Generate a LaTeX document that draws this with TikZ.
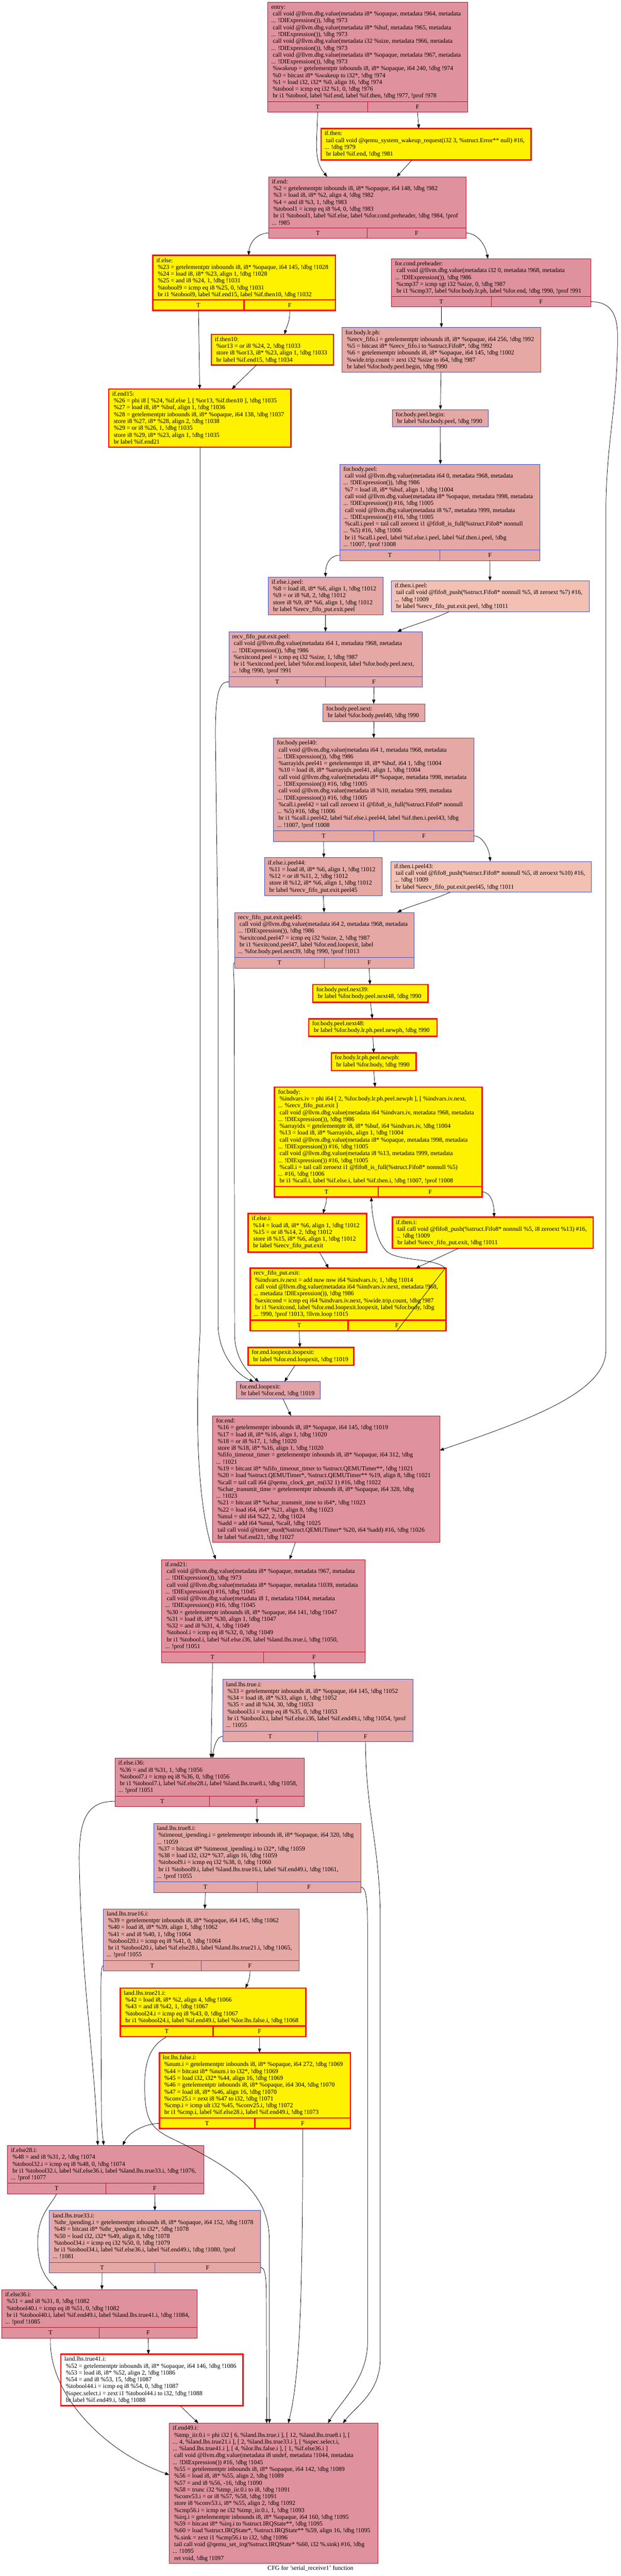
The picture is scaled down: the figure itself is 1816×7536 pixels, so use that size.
\documentclass[tikz,border=0pt]{standalone}
\usepackage{fontspec}
\setmainfont{Liberation Serif}
\usepackage{tikz}
\usetikzlibrary{arrows.meta}
\definecolor{hotb}{HTML}{B70D28}
\definecolor{hotf}{HTML}{DF929D}
\definecolor{warmf}{HTML}{E5A8A5}
\definecolor{lxf}{HTML}{E3A2A5}
\definecolor{coolf}{HTML}{F3C1B4}
\definecolor{coolb}{HTML}{3D50C3}

\begin{document}
\begin{tikzpicture}[x=1pt,y=-1pt,
	blk/.style={anchor=north west,inner sep=0pt,outer sep=0pt},
	cell/.style={anchor=north west,inner sep=0pt,outer sep=0pt,minimum height=31,font=\fontsize{18.1}{20}\selectfont},
	code/.style={anchor=north west,inner sep=0pt,align=left,font=\fontsize{18.1}{20}\selectfont},
	hot/.style={draw=hotb,fill=hotf,line width=1pt},
	warm/.style={draw=coolb,fill=warmf,line width=1pt},
	lx/.style={draw=coolb,fill=lxf,line width=1pt},
	cool/.style={draw=coolb,fill=coolf,line width=1pt},
	hl/.style={draw=red,fill=yellow,line width=4pt},
	hlw/.style={draw=red,fill=white,line width=4pt},
	conn/.style={draw=black,line width=1.1pt,-{Triangle[length=12pt,width=9pt]}}]
	\path[use as bounding box,fill=white] (0,0) rectangle (1816,7536);

	% entry
	\node[blk,hot,minimum width=584,minimum height=291] (entry) at (783,6) {};
	\node[cell,hot,minimum width=292] (entry-T) at (783,297) {T};
	\node[cell,hot,minimum width=292] (entry-F) at (1075,297) {F};
	\node[code] (entry-c) at ([xshift=10pt,yshift=-6pt]entry.north west) {\strut entry:\\
		\ call void @llvm.dbg.value(metadata i8* \%opaque, metadata !964, metadata\\
		... !DIExpression()), !dbg !973\\
		\ call void @llvm.dbg.value(metadata i8* \%buf, metadata !965, metadata\\
		... !DIExpression()), !dbg !973\\
		\ call void @llvm.dbg.value(metadata i32 \%size, metadata !966, metadata\\
		... !DIExpression()), !dbg !973\\
		\ call void @llvm.dbg.value(metadata i8* \%opaque, metadata !967, metadata\\
		... !DIExpression()), !dbg !973\\
		\ \%wakeup = getelementptr inbounds i8, i8* \%opaque, i64 240, !dbg !974\\
		\ \%0 = bitcast i8* \%wakeup to i32*, !dbg !974\\
		\ \%1 = load i32, i32* \%0, align 16, !dbg !974\\
		\ \%tobool = icmp eq i32 \%1, 0, !dbg !976\\
		\ br i1 \%tobool, label \%if.end, label \%if.then, !dbg !977, !prof !978};

	\node[blk,hl,minimum width=614,minimum height=92] (if-then) at (939,376) {};
	\node[code] (if-then-c) at ([xshift=10pt,yshift=-6pt]if-then.north west) {\strut if.then:\\
		\ tail call void @qemu\_system\_wakeup\_request(i32 3, \%struct.Error** null) \#16,\\
		... !dbg !979\\
		\ br label \%if.end, !dbg !981};

	\node[blk,hot,minimum width=578,minimum height=149] (if-end) at (785,517) {};
	\node[cell,hot,minimum width=289] (if-end-T) at (785,666) {T};
	\node[cell,hot,minimum width=289] (if-end-F) at (1074,666) {F};
	\node[code] (if-end-c) at ([xshift=10pt,yshift=-6pt]if-end.north west) {\strut if.end:\\
		\ \%2 = getelementptr inbounds i8, i8* \%opaque, i64 148, !dbg !982\\
		\ \%3 = load i8, i8* \%2, align 4, !dbg !982\\
		\ \%4 = and i8 \%3, 1, !dbg !983\\
		\ \%tobool1 = icmp eq i8 \%4, 0, !dbg !983\\
		\ br i1 \%tobool1, label \%if.else, label \%for.cond.preheader, !dbg !984, !prof\\
		... !985};

	\node[blk,hl,minimum width=534,minimum height=130] (if-else) at (447,747) {};
	\node[cell,hl,minimum width=267] (if-else-T) at (447,877) {T};
	\node[cell,hl,minimum width=267] (if-else-F) at (714,877) {F};
	\node[code] (if-else-c) at ([xshift=10pt,yshift=-6pt]if-else.north west) {\strut if.else:\\
		\ \%23 = getelementptr inbounds i8, i8* \%opaque, i64 145, !dbg !1028\\
		\ \%24 = load i8, i8* \%23, align 1, !dbg !1028\\
		\ \%25 = and i8 \%24, 1, !dbg !1031\\
		\ \%tobool9 = icmp eq i8 \%25, 0, !dbg !1031\\
		\ br i1 \%tobool9, label \%if.end15, label \%if.then10, !dbg !1032};

	\node[blk,hot,minimum width=583,minimum height=110] (for-cond-preheader) at (1145,757) {};
	\node[cell,hot,minimum width=291.5] (for-cond-preheader-T) at (1145,867) {T};
	\node[cell,hot,minimum width=291.5] (for-cond-preheader-F) at (1436.5,867) {F};
	\node[code] (for-cond-preheader-c) at ([xshift=10pt,yshift=-6pt]for-cond-preheader.north west) {\strut for.cond.preheader:\\
		\ call void @llvm.dbg.value(metadata i32 0, metadata !968, metadata\\
		... !DIExpression()), !dbg !986\\
		\ \%cmp37 = icmp sgt i32 \%size, 0, !dbg !987\\
		\ br i1 \%cmp37, label \%for.body.lr.ph, label \%for.end, !dbg !990, !prof !991};

	\node[blk,hl,minimum width=357,minimum height=90] (if-then10) at (618,978) {};
	\node[code] (if-then10-c) at ([xshift=10pt,yshift=-6pt]if-then10.north west) {\strut if.then10:\\
		\ \%or13 = or i8 \%24, 2, !dbg !1033\\
		\ store i8 \%or13, i8* \%23, align 1, !dbg !1033\\
		\ br label \%if.end15, !dbg !1034};

	\node[blk,hl,minimum width=533,minimum height=170] (if-end15) at (318,1138) {};
	\node[code] (if-end15-c) at ([xshift=10pt,yshift=-6pt]if-end15.north west) {\strut if.end15:\\
		\ \%26 = phi i8 [ \%24, \%if.else ], [ \%or13, \%if.then10 ], !dbg !1035\\
		\ \%27 = load i8, i8* \%buf, align 1, !dbg !1036\\
		\ \%28 = getelementptr inbounds i8, i8* \%opaque, i64 138, !dbg !1037\\
		\ store i8 \%27, i8* \%28, align 2, !dbg !1038\\
		\ \%29 = or i8 \%26, 1, !dbg !1035\\
		\ store i8 \%29, i8* \%23, align 1, !dbg !1035\\
		\ br label \%if.end21};

	\node[blk,warm,minimum width=582,minimum height=130] (for-body-lr-ph) at (1000,958) {};
	\node[code] (for-body-lr-ph-c) at ([xshift=10pt,yshift=-6pt]for-body-lr-ph.north west) {\strut for.body.lr.ph:\\
		\ \%recv\_fifo.i = getelementptr inbounds i8, i8* \%opaque, i64 256, !dbg !992\\
		\ \%5 = bitcast i8* \%recv\_fifo.i to \%struct.Fifo8*, !dbg !992\\
		\ \%6 = getelementptr inbounds i8, i8* \%opaque, i64 145, !dbg !1002\\
		\ \%wide.trip.count = zext i32 \%size to i64, !dbg !987\\
		\ br label \%for.body.peel.begin, !dbg !990};

	\node[blk,warm,minimum width=281,minimum height=50] (for-body-peel-begin) at (1147,1198) {};
	\node[code] (for-body-peel-begin-c) at ([xshift=10pt,yshift=-6pt]for-body-peel-begin.north west) {\strut for.body.peel.begin:\\
		\ br label \%for.body.peel, !dbg !990};

	\node[blk,warm,minimum width=585,minimum height=251] (for-body-peel) at (994,1358) {};
	\node[cell,warm,minimum width=292.5] (for-body-peel-T) at (994,1609) {T};
	\node[cell,warm,minimum width=292.5] (for-body-peel-F) at (1286.5,1609) {F};
	\node[code] (for-body-peel-c) at ([xshift=10pt,yshift=-6pt]for-body-peel.north west) {\strut for.body.peel:\\
		\ call void @llvm.dbg.value(metadata i64 0, metadata !968, metadata\\
		... !DIExpression()), !dbg !986\\
		\ \%7 = load i8, i8* \%buf, align 1, !dbg !1004\\
		\ call void @llvm.dbg.value(metadata i8* \%opaque, metadata !998, metadata\\
		... !DIExpression()) \#16, !dbg !1005\\
		\ call void @llvm.dbg.value(metadata i8 \%7, metadata !999, metadata\\
		... !DIExpression()) \#16, !dbg !1005\\
		\ \%call.i.peel = tail call zeroext i1 @fifo8\_is\_full(\%struct.Fifo8* nonnull\\
		... \%5) \#16, !dbg !1006\\
		\ br i1 \%call.i.peel, label \%if.else.i.peel, label \%if.then.i.peel, !dbg\\
		... !1007, !prof !1008};

	\node[blk,warm,minimum width=336,minimum height=111] (if-else-i-peel) at (784,1688) {};
	\node[code] (if-else-i-peel-c) at ([xshift=10pt,yshift=-6pt]if-else-i-peel.north west) {\strut if.else.i.peel:\\
		\ \%8 = load i8, i8* \%6, align 1, !dbg !1012\\
		\ \%9 = or i8 \%8, 2, !dbg !1012\\
		\ store i8 \%9, i8* \%6, align 1, !dbg !1012\\
		\ br label \%recv\_fifo\_put.exit.peel};

	\node[blk,cool,minimum width=579,minimum height=90] (if-then-i-peel) at (1144,1699) {};
	\node[code] (if-then-i-peel-c) at ([xshift=10pt,yshift=-6pt]if-then-i-peel.north west) {\strut if.then.i.peel:\\
		\ tail call void @fifo8\_push(\%struct.Fifo8* nonnull \%5, i8 zeroext \%7) \#16,\\
		... !dbg !1009\\
		\ br label \%recv\_fifo\_put.exit.peel, !dbg !1011};

	\node[blk,warm,minimum width=566,minimum height=131] (recv-exit-peel) at (669,1848) {};
	\node[cell,warm,minimum width=283] (recv-exit-peel-T) at (669,1979) {T};
	\node[cell,warm,minimum width=283] (recv-exit-peel-F) at (952,1979) {F};
	\node[code] (recv-exit-peel-c) at ([xshift=10pt,yshift=-6pt]recv-exit-peel.north west) {\strut recv\_fifo\_put.exit.peel:\\
		\ call void @llvm.dbg.value(metadata i64 1, metadata !968, metadata\\
		... !DIExpression()), !dbg !986\\
		\ \%exitcond.peel = icmp eq i32 \%size, 1, !dbg !987\\
		\ br i1 \%exitcond.peel, label \%for.end.loopexit, label \%for.body.peel.next,\\
		... !dbg !990, !prof !991};

	\node[blk,warm,minimum width=299,minimum height=51] (for-body-peel-next) at (944,2059) {};
	\node[code] (for-body-peel-next-c) at ([xshift=10pt,yshift=-6pt]for-body-peel-next.north west) {\strut for.body.peel.next:\\
		\ br label \%for.body.peel40, !dbg !990};

	\node[blk,warm,minimum width=586,minimum height=271] (for-body-peel40) at (800,2159) {};
	\node[cell,warm,minimum width=293] (for-body-peel40-T) at (800,2430) {T};
	\node[cell,warm,minimum width=293] (for-body-peel40-F) at (1093,2430) {F};
	\node[code] (for-body-peel40-c) at ([xshift=10pt,yshift=-6pt]for-body-peel40.north west) {\strut for.body.peel40:\\
		\ call void @llvm.dbg.value(metadata i64 1, metadata !968, metadata\\
		... !DIExpression()), !dbg !986\\
		\ \%arrayidx.peel41 = getelementptr i8, i8* \%buf, i64 1, !dbg !1004\\
		\ \%10 = load i8, i8* \%arrayidx.peel41, align 1, !dbg !1004\\
		\ call void @llvm.dbg.value(metadata i8* \%opaque, metadata !998, metadata\\
		... !DIExpression()) \#16, !dbg !1005\\
		\ call void @llvm.dbg.value(metadata i8 \%10, metadata !999, metadata\\
		... !DIExpression()) \#16, !dbg !1005\\
		\ \%call.i.peel42 = tail call zeroext i1 @fifo8\_is\_full(\%struct.Fifo8* nonnull\\
		... \%5) \#16, !dbg !1006\\
		\ br i1 \%call.i.peel42, label \%if.else.i.peel44, label \%if.then.i.peel43, !dbg\\
		... !1007, !prof !1008};

	\node[blk,warm,minimum width=345,minimum height=111] (if-else-i-peel44) at (773,2509) {};
	\node[code] (if-else-i-peel44-c) at ([xshift=10pt,yshift=-6pt]if-else-i-peel44.north west) {\strut if.else.i.peel44:\\
		\ \%11 = load i8, i8* \%6, align 1, !dbg !1012\\
		\ \%12 = or i8 \%11, 2, !dbg !1012\\
		\ store i8 \%12, i8* \%6, align 1, !dbg !1012\\
		\ br label \%recv\_fifo\_put.exit.peel45};

	\node[blk,cool,minimum width=586,minimum height=90] (if-then-i-peel43) at (1143,2520) {};
	\node[code] (if-then-i-peel43-c) at ([xshift=10pt,yshift=-6pt]if-then-i-peel43.north west) {\strut if.then.i.peel43:\\
		\ tail call void @fifo8\_push(\%struct.Fifo8* nonnull \%5, i8 zeroext \%10) \#16,\\
		... !dbg !1009\\
		\ br label \%recv\_fifo\_put.exit.peel45, !dbg !1011};

	\node[blk,warm,minimum width=525,minimum height=132] (recv-exit-peel45) at (686,2669) {};
	\node[cell,warm,minimum width=262.5] (recv-exit-peel45-T) at (686,2801) {T};
	\node[cell,warm,minimum width=262.5] (recv-exit-peel45-F) at (948.5,2801) {F};
	\node[code] (recv-exit-peel45-c) at ([xshift=10pt,yshift=-6pt]recv-exit-peel45.north west) {\strut recv\_fifo\_put.exit.peel45:\\
		\ call void @llvm.dbg.value(metadata i64 2, metadata !968, metadata\\
		... !DIExpression()), !dbg !986\\
		\ \%exitcond.peel47 = icmp eq i32 \%size, 2, !dbg !987\\
		\ br i1 \%exitcond.peel47, label \%for.end.loopexit, label\\
		... \%for.body.peel.next39, !dbg !990, !prof !1013};

	\node[blk,hl,minimum width=337,minimum height=52] (for-body-peel-next39) at (915,2880) {};
	\node[code] (for-body-peel-next39-c) at ([xshift=10pt,yshift=-6pt]for-body-peel-next39.north west) {\strut for.body.peel.next39:\\
		\ br label \%for.body.peel.next48, !dbg !990};

	\node[blk,hl,minimum width=375,minimum height=52] (for-body-peel-next48) at (903,2980) {};
	\node[code] (for-body-peel-next48-c) at ([xshift=10pt,yshift=-6pt]for-body-peel-next48.north west) {\strut for.body.peel.next48:\\
		\ br label \%for.body.lr.ph.peel.newph, !dbg !990};

	\node[blk,hl,minimum width=248,minimum height=52] (for-body-lr-ph-peel-newph) at (969,3080) {};
	\node[code] (for-body-lr-ph-peel-newph-c) at ([xshift=10pt,yshift=-6pt]for-body-lr-ph-peel-newph.north west) {\strut for.body.lr.ph.peel.newph:\\
		\ br label \%for.body, !dbg !990};

	\node[blk,hl,minimum width=607,minimum height=291] (for-body) at (803,3180) {};
	\node[cell,hl,minimum width=303.5] (for-body-T) at (803,3471) {T};
	\node[cell,hl,minimum width=303.5] (for-body-F) at (1106.5,3471) {F};
	\node[code] (for-body-c) at ([xshift=10pt,yshift=-6pt]for-body.north west) {\strut for.body:\\
		\ \%indvars.iv = phi i64 [ 2, \%for.body.lr.ph.peel.newph ], [ \%indvars.iv.next,\\
		... \%recv\_fifo\_put.exit ]\\
		\ call void @llvm.dbg.value(metadata i64 \%indvars.iv, metadata !968, metadata\\
		... !DIExpression()), !dbg !986\\
		\ \%arrayidx = getelementptr i8, i8* \%buf, i64 \%indvars.iv, !dbg !1004\\
		\ \%13 = load i8, i8* \%arrayidx, align 1, !dbg !1004\\
		\ call void @llvm.dbg.value(metadata i8* \%opaque, metadata !998, metadata\\
		... !DIExpression()) \#16, !dbg !1005\\
		\ call void @llvm.dbg.value(metadata i8 \%13, metadata !999, metadata\\
		... !DIExpression()) \#16, !dbg !1005\\
		\ \%call.i = tail call zeroext i1 @fifo8\_is\_full(\%struct.Fifo8* nonnull \%5)\\
		... \#16, !dbg !1006\\
		\ br i1 \%call.i, label \%if.else.i, label \%if.then.i, !dbg !1007, !prof !1008};

	\node[blk,hl,minimum width=346,minimum height=113] (if-else-i) at (726,3550) {};
	\node[code] (if-else-i-c) at ([xshift=10pt,yshift=-6pt]if-else-i.north west) {\strut if.else.i:\\
		\ \%14 = load i8, i8* \%6, align 1, !dbg !1012\\
		\ \%15 = or i8 \%14, 2, !dbg !1012\\
		\ store i8 \%15, i8* \%6, align 1, !dbg !1012\\
		\ br label \%recv\_fifo\_put.exit};

	\node[blk,hl,minimum width=587,minimum height=91] (if-then-i) at (1148,3561) {};
	\node[code] (if-then-i-c) at ([xshift=10pt,yshift=-6pt]if-then-i.north west) {\strut if.then.i:\\
		\ tail call void @fifo8\_push(\%struct.Fifo8* nonnull \%5, i8 zeroext \%13) \#16,\\
		... !dbg !1009\\
		\ br label \%recv\_fifo\_put.exit, !dbg !1011};

	\node[blk,hl,minimum width=572,minimum height=152] (recv-exit) at (732,3710) {};
	\node[cell,hl,minimum width=286] (recv-exit-T) at (732,3862) {T};
	\node[cell,hl,minimum width=286] (recv-exit-F) at (1018,3862) {F};
	\node[code] (recv-exit-c) at ([xshift=10pt,yshift=-6pt]recv-exit.north west) {\strut recv\_fifo\_put.exit:\\
		\ \%indvars.iv.next = add nuw nsw i64 \%indvars.iv, 1, !dbg !1014\\
		\ call void @llvm.dbg.value(metadata i64 \%indvars.iv.next, metadata !968,\\
		... metadata !DIExpression()), !dbg !986\\
		\ \%exitcond = icmp eq i64 \%indvars.iv.next, \%wide.trip.count, !dbg !987\\
		\ br i1 \%exitcond, label \%for.end.loopexit.loopexit, label \%for.body, !dbg\\
		... !990, !prof !1013, !llvm.loop !1015};

	\node[blk,hl,minimum width=309,minimum height=52] (for-end-loopexit-loopexit) at (726,3942) {};
	\node[code] (for-end-loopexit-loopexit-c) at ([xshift=10pt,yshift=-6pt]for-end-loopexit-loopexit.north west) {\strut for.end.loopexit.loopexit:\\
		\ br label \%for.end.loopexit, !dbg !1019};

	\node[blk,lx,minimum width=245,minimum height=51] (for-end-loopexit) at (691,4042) {};
	\node[code] (for-end-loopexit-c) at ([xshift=10pt,yshift=-6pt]for-end-loopexit.north west) {\strut for.end.loopexit:\\
		\ br label \%for.end, !dbg !1019};

	\node[blk,hot,minimum width=664,minimum height=370] (for-end) at (622,4142) {};
	\node[code] (for-end-c) at ([xshift=10pt,yshift=-6pt]for-end.north west) {\strut for.end:\\
		\ \%16 = getelementptr inbounds i8, i8* \%opaque, i64 145, !dbg !1019\\
		\ \%17 = load i8, i8* \%16, align 1, !dbg !1020\\
		\ \%18 = or i8 \%17, 1, !dbg !1020\\
		\ store i8 \%18, i8* \%16, align 1, !dbg !1020\\
		\ \%fifo\_timeout\_timer = getelementptr inbounds i8, i8* \%opaque, i64 312, !dbg\\
		... !1021\\
		\ \%19 = bitcast i8* \%fifo\_timeout\_timer to \%struct.QEMUTimer**, !dbg !1021\\
		\ \%20 = load \%struct.QEMUTimer*, \%struct.QEMUTimer** \%19, align 8, !dbg !1021\\
		\ \%call = tail call i64 @qemu\_clock\_get\_ns(i32 1) \#16, !dbg !1022\\
		\ \%char\_transmit\_time = getelementptr inbounds i8, i8* \%opaque, i64 328, !dbg\\
		... !1023\\
		\ \%21 = bitcast i8* \%char\_transmit\_time to i64*, !dbg !1023\\
		\ \%22 = load i64, i64* \%21, align 8, !dbg !1023\\
		\ \%mul = shl i64 \%22, 2, !dbg !1024\\
		\ \%add = add i64 \%mul, \%call, !dbg !1025\\
		\ tail call void @timer\_mod(\%struct.QEMUTimer* \%20, i64 \%add) \#16, !dbg !1026\\
		\ br label \%if.end21, !dbg !1027};

	\node[blk,hot,minimum width=594,minimum height=271] (if-end21) at (473,4562) {};
	\node[cell,hot,minimum width=297] (if-end21-T) at (473,4833) {T};
	\node[cell,hot,minimum width=297] (if-end21-F) at (770,4833) {F};
	\node[code] (if-end21-c) at ([xshift=10pt,yshift=-6pt]if-end21.north west) {\strut if.end21:\\
		\ call void @llvm.dbg.value(metadata i8* \%opaque, metadata !967, metadata\\
		... !DIExpression()), !dbg !973\\
		\ call void @llvm.dbg.value(metadata i8* \%opaque, metadata !1039, metadata\\
		... !DIExpression()) \#16, !dbg !1045\\
		\ call void @llvm.dbg.value(metadata i8 1, metadata !1044, metadata\\
		... !DIExpression()) \#16, !dbg !1045\\
		\ \%30 = getelementptr inbounds i8, i8* \%opaque, i64 141, !dbg !1047\\
		\ \%31 = load i8, i8* \%30, align 1, !dbg !1047\\
		\ \%32 = and i8 \%31, 4, !dbg !1049\\
		\ \%tobool.i = icmp eq i8 \%32, 0, !dbg !1049\\
		\ br i1 \%tobool.i, label \%if.else.i36, label \%land.lhs.true.i, !dbg !1050,\\
		... !prof !1051};

	\node[blk,warm,minimum width=557,minimum height=151] (land-lhs-true-i) at (651,4913) {};
	\node[cell,warm,minimum width=278.5] (land-lhs-true-i-T) at (651,5064) {T};
	\node[cell,warm,minimum width=278.5] (land-lhs-true-i-F) at (929.5,5064) {F};
	\node[code] (land-lhs-true-i-c) at ([xshift=10pt,yshift=-6pt]land-lhs-true-i.north west) {\strut land.lhs.true.i:\\
		\ \%33 = getelementptr inbounds i8, i8* \%opaque, i64 145, !dbg !1052\\
		\ \%34 = load i8, i8* \%33, align 1, !dbg !1052\\
		\ \%35 = and i8 \%34, 30, !dbg !1053\\
		\ \%tobool3.i = icmp eq i8 \%35, 0, !dbg !1053\\
		\ br i1 \%tobool3.i, label \%if.else.i36, label \%if.end49.i, !dbg !1054, !prof\\
		... !1055};

	\node[blk,hot,minimum width=554,minimum height=111] (if-else-i36) at (336,5143) {};
	\node[cell,hot,minimum width=277] (if-else-i36-T) at (336,5254) {T};
	\node[cell,hot,minimum width=277] (if-else-i36-F) at (613,5254) {F};
	\node[code] (if-else-i36-c) at ([xshift=10pt,yshift=-6pt]if-else-i36.north west) {\strut if.else.i36:\\
		\ \%36 = and i8 \%31, 1, !dbg !1056\\
		\ \%tobool7.i = icmp eq i8 \%36, 0, !dbg !1056\\
		\ br i1 \%tobool7.i, label \%if.else28.i, label \%land.lhs.true8.i, !dbg !1058,\\
		... !prof !1051};

	\node[blk,warm,minimum width=606,minimum height=171] (land-lhs-true8-i) at (449,5334) {};
	\node[cell,warm,minimum width=303] (land-lhs-true8-i-T) at (449,5505) {T};
	\node[cell,warm,minimum width=303] (land-lhs-true8-i-F) at (752,5505) {F};
	\node[code] (land-lhs-true8-i-c) at ([xshift=10pt,yshift=-6pt]land-lhs-true8-i.north west) {\strut land.lhs.true8.i:\\
		\ \%timeout\_ipending.i = getelementptr inbounds i8, i8* \%opaque, i64 320, !dbg\\
		... !1059\\
		\ \%37 = bitcast i8* \%timeout\_ipending.i to i32*, !dbg !1059\\
		\ \%38 = load i32, i32* \%37, align 16, !dbg !1059\\
		\ \%tobool9.i = icmp eq i32 \%38, 0, !dbg !1060\\
		\ br i1 \%tobool9.i, label \%land.lhs.true16.i, label \%if.end49.i, !dbg !1061,\\
		... !prof !1055};

	\node[blk,warm,minimum width=572,minimum height=151] (land-lhs-true16-i) at (302,5584) {};
	\node[cell,warm,minimum width=286] (land-lhs-true16-i-T) at (302,5735) {T};
	\node[cell,warm,minimum width=286] (land-lhs-true16-i-F) at (588,5735) {F};
	\node[code] (land-lhs-true16-i-c) at ([xshift=10pt,yshift=-6pt]land-lhs-true16-i.north west) {\strut land.lhs.true16.i:\\
		\ \%39 = getelementptr inbounds i8, i8* \%opaque, i64 145, !dbg !1062\\
		\ \%40 = load i8, i8* \%39, align 1, !dbg !1062\\
		\ \%41 = and i8 \%40, 1, !dbg !1064\\
		\ \%tobool20.i = icmp eq i8 \%41, 0, !dbg !1064\\
		\ br i1 \%tobool20.i, label \%if.else28.i, label \%land.lhs.true21.i, !dbg !1065,\\
		... !prof !1055};

	\node[blk,hl,minimum width=543,minimum height=111] (land-lhs-true21-i) at (352,5816) {};
	\node[cell,hl,minimum width=271.5] (land-lhs-true21-i-T) at (352,5927) {T};
	\node[cell,hl,minimum width=271.5] (land-lhs-true21-i-F) at (623.5,5927) {F};
	\node[code] (land-lhs-true21-i-c) at ([xshift=10pt,yshift=-6pt]land-lhs-true21-i.north west) {\strut land.lhs.true21.i:\\
		\ \%42 = load i8, i8* \%2, align 4, !dbg !1066\\
		\ \%43 = and i8 \%42, 1, !dbg !1067\\
		\ \%tobool24.i = icmp eq i8 \%43, 0, !dbg !1067\\
		\ br i1 \%tobool24.i, label \%if.end49.i, label \%lor.lhs.false.i, !dbg !1068};

	\node[blk,hl,minimum width=559,minimum height=191] (lor-lhs-false-i) at (466,6005) {};
	\node[cell,hl,minimum width=279.5] (lor-lhs-false-i-T) at (466,6196) {T};
	\node[cell,hl,minimum width=279.5] (lor-lhs-false-i-F) at (745.5,6196) {F};
	\node[code] (lor-lhs-false-i-c) at ([xshift=10pt,yshift=-6pt]lor-lhs-false-i.north west) {\strut lor.lhs.false.i:\\
		\ \%num.i = getelementptr inbounds i8, i8* \%opaque, i64 272, !dbg !1069\\
		\ \%44 = bitcast i8* \%num.i to i32*, !dbg !1069\\
		\ \%45 = load i32, i32* \%44, align 16, !dbg !1069\\
		\ \%46 = getelementptr inbounds i8, i8* \%opaque, i64 304, !dbg !1070\\
		\ \%47 = load i8, i8* \%46, align 16, !dbg !1070\\
		\ \%conv25.i = zext i8 \%47 to i32, !dbg !1071\\
		\ \%cmp.i = icmp ult i32 \%45, \%conv25.i, !dbg !1072\\
		\ br i1 \%cmp.i, label \%if.else28.i, label \%if.end49.i, !dbg !1073};

	\node[blk,hot,minimum width=574,minimum height=111] (if-else28-i) at (22,6276) {};
	\node[cell,hot,minimum width=287] (if-else28-i-T) at (22,6387) {T};
	\node[cell,hot,minimum width=287] (if-else28-i-F) at (309,6387) {F};
	\node[code] (if-else28-i-c) at ([xshift=10pt,yshift=-6pt]if-else28-i.north west) {\strut if.else28.i:\\
		\ \%48 = and i8 \%31, 2, !dbg !1074\\
		\ \%tobool32.i = icmp eq i8 \%48, 0, !dbg !1074\\
		\ br i1 \%tobool32.i, label \%if.else36.i, label \%land.lhs.true33.i, !dbg !1076,\\
		... !prof !1077};

	\node[blk,warm,minimum width=618,minimum height=151] (land-lhs-true33-i) at (144,6467) {};
	\node[cell,warm,minimum width=309] (land-lhs-true33-i-T) at (144,6618) {T};
	\node[cell,warm,minimum width=309] (land-lhs-true33-i-F) at (453,6618) {F};
	\node[code] (land-lhs-true33-i-c) at ([xshift=10pt,yshift=-6pt]land-lhs-true33-i.north west) {\strut land.lhs.true33.i:\\
		\ \%thr\_ipending.i = getelementptr inbounds i8, i8* \%opaque, i64 152, !dbg !1078\\
		\ \%49 = bitcast i8* \%thr\_ipending.i to i32*, !dbg !1078\\
		\ \%50 = load i32, i32* \%49, align 8, !dbg !1078\\
		\ \%tobool34.i = icmp eq i32 \%50, 0, !dbg !1079\\
		\ br i1 \%tobool34.i, label \%if.else36.i, label \%if.end49.i, !dbg !1080, !prof\\
		... !1081};

	\node[blk,hot,minimum width=571,minimum height=111] (if-else36-i) at (5,6698) {};
	\node[cell,hot,minimum width=285.5] (if-else36-i-T) at (5,6809) {T};
	\node[cell,hot,minimum width=285.5] (if-else36-i-F) at (290.5,6809) {F};
	\node[code] (if-else36-i-c) at ([xshift=10pt,yshift=-6pt]if-else36-i.north west) {\strut if.else36.i:\\
		\ \%51 = and i8 \%31, 8, !dbg !1082\\
		\ \%tobool40.i = icmp eq i8 \%51, 0, !dbg !1082\\
		\ br i1 \%tobool40.i, label \%if.end49.i, label \%land.lhs.true41.i, !dbg !1084,\\
		... !prof !1085};

	\node[blk,hlw,minimum width=533,minimum height=151] (land-lhs-true41-i) at (178,6887) {};
	\node[code] (land-lhs-true41-i-c) at ([xshift=10pt,yshift=-6pt]land-lhs-true41-i.north west) {\strut land.lhs.true41.i:\\
		\ \%52 = getelementptr inbounds i8, i8* \%opaque, i64 146, !dbg !1086\\
		\ \%53 = load i8, i8* \%52, align 2, !dbg !1086\\
		\ \%54 = and i8 \%53, 15, !dbg !1087\\
		\ \%tobool44.i = icmp eq i8 \%54, 0, !dbg !1087\\
		\ \%spec.select.i = zext i1 \%tobool44.i to i32, !dbg !1088\\
		\ br label \%if.end49.i, !dbg !1088};

	\node[blk,hot,minimum width=610,minimum height=410] (if-end49-i) at (495,7089) {};
	\node[code] (if-end49-i-c) at ([xshift=10pt,yshift=-6pt]if-end49-i.north west) {\strut if.end49.i:\\
		\ \%tmp\_iir.0.i = phi i32 [ 6, \%land.lhs.true.i ], [ 12, \%land.lhs.true8.i ], [\\
		... 4, \%land.lhs.true21.i ], [ 2, \%land.lhs.true33.i ], [ \%spec.select.i,\\
		... \%land.lhs.true41.i ], [ 4, \%lor.lhs.false.i ], [ 1, \%if.else36.i ]\\
		\ call void @llvm.dbg.value(metadata i8 undef, metadata !1044, metadata\\
		... !DIExpression()) \#16, !dbg !1045\\
		\ \%55 = getelementptr inbounds i8, i8* \%opaque, i64 142, !dbg !1089\\
		\ \%56 = load i8, i8* \%55, align 2, !dbg !1089\\
		\ \%57 = and i8 \%56, -16, !dbg !1090\\
		\ \%58 = trunc i32 \%tmp\_iir.0.i to i8, !dbg !1091\\
		\ \%conv53.i = or i8 \%57, \%58, !dbg !1091\\
		\ store i8 \%conv53.i, i8* \%55, align 2, !dbg !1092\\
		\ \%cmp56.i = icmp ne i32 \%tmp\_iir.0.i, 1, !dbg !1093\\
		\ \%irq.i = getelementptr inbounds i8, i8* \%opaque, i64 160, !dbg !1095\\
		\ \%59 = bitcast i8* \%irq.i to \%struct.IRQState**, !dbg !1095\\
		\ \%60 = load \%struct.IRQState*, \%struct.IRQState** \%59, align 16, !dbg !1095\\
		\ \%.sink = zext i1 \%cmp56.i to i32, !dbg !1096\\
		\ tail call void @qemu\_set\_irq(\%struct.IRQState* \%60, i32 \%.sink) \#16, !dbg\\
		... !1095\\
		\ ret void, !dbg !1097};

	\node[anchor=base,inner sep=0pt,font=\fontsize{18.1}{20}\selectfont] (title) at (908,7519) {CFG for 'serial\_receive1' function};

	% edges
	\draw[conn] (entry-T.south) .. controls (926,430) and (918,470) .. ([xshift=172pt]if-end.north west);
	\draw[conn] (entry-F.south) -- ([xshift=286pt]if-then.north west);
	\draw[conn] ([xshift=266pt]if-then.south west) -- ([xshift=375pt]if-end.north west);
	\draw[conn] (if-end-T.west) .. controls (750,683) and (730,710) .. ([xshift=280pt]if-else.north west);
	\draw[conn] (if-end-F.east) .. controls (1400,683) and (1420,720) .. ([xshift=282pt]for-cond-preheader.north west);
	\draw[conn] (if-else-T.south) -- ([xshift=266pt]if-end15.north west);
	\draw[conn] (if-else-F.south) .. controls (848,940) and (840,950) .. ([xshift=214pt]if-then10.north west);
	\draw[conn] ([xshift=132pt]if-then10.south west) -- ([xshift=360pt]if-end15.north west);
	\draw[conn] (for-cond-preheader-T.south) -- ([xshift=291pt]for-body-lr-ph.north west);
	\draw[conn] (for-cond-preheader-F.east) .. controls (1795,883) and (1808,930) .. (1806,1000) .. controls (1804,1200) and (1772,1300) .. (1772,1500) -- (1772,3950) .. controls (1772,4070) and (1560,4150) .. ([yshift=-101pt]for-end.north east);
	\draw[conn] ([xshift=290pt]for-body-lr-ph.south west) -- ([xshift=141pt]for-body-peel-begin.north west);
	\draw[conn] (for-body-peel-begin.south) -- ([xshift=294pt]for-body-peel.north west);
	\draw[conn] ([xshift=267pt]if-end15.south west) -- (585,3900) .. controls (565,4250) and (590,4450) .. ([xshift=158pt]if-end21.north west);
	\draw[conn] (for-body-peel-T.west) .. controls (965,1624) and (952,1650) .. ([xshift=168pt]if-else-i-peel.north west);
	\draw[conn] (for-body-peel-F.south) -- ([xshift=289pt]if-then-i-peel.north west);
	\draw[conn] ([xshift=168pt]if-else-i-peel.south west) -- ([xshift=283pt]recv-exit-peel.north west);
	\draw[conn] ([xshift=170pt]if-then-i-peel.south west) .. controls (1260,1815) and (1200,1830) .. ([xshift=493pt]recv-exit-peel.north west);
	\draw[conn] (recv-exit-peel-T.west) .. controls (640,1994) and (630,2030) .. (630,2150) -- (638,2800) -- (638,3880) .. controls (640,3960) and (690,4020) .. ([xshift=51pt]for-end-loopexit.north west);
	\draw[conn] (recv-exit-peel-F.south) -- ([xshift=149pt]for-body-peel-next.north west);
	\draw[conn] (for-body-peel-next.south) -- ([xshift=293pt]for-body-peel40.north west);
	\draw[conn] (for-body-peel40-T.south) -- ([xshift=174pt]if-else-i-peel44.north west);
	\draw[conn] (for-body-peel40-F.east) .. controls (1410,2445) and (1430,2480) .. ([xshift=291pt]if-then-i-peel43.north west);
	\draw[conn] (if-else-i-peel44.south) -- ([xshift=262pt]recv-exit-peel45.north west);
	\draw[conn] ([xshift=174pt]if-then-i-peel43.south west) .. controls (1260,2635) and (1200,2650) .. ([xshift=476pt]recv-exit-peel45.north west);
	\draw[conn] (recv-exit-peel45-T.west) .. controls (680,2816) and (684,2840) .. (685,2900) -- (686,3900) .. controls (686,3975) and (725,4015) .. ([xshift=66pt]for-end-loopexit.north west);
	\draw[conn] (recv-exit-peel45-F.south) -- ([xshift=167pt]for-body-peel-next39.north west);
	\draw[conn] (for-body-peel-next39.south) -- ([xshift=186pt]for-body-peel-next48.north west);
	\draw[conn] (for-body-peel-next48.south) -- ([xshift=124pt]for-body-lr-ph-peel-newph.north west);
	\draw[conn] (for-body-lr-ph-peel-newph.south) -- ([xshift=294pt]for-body.north west);
	\draw[conn] (for-body-T.south) .. controls (955,3520) and (950,3530) .. ([xshift=219pt]if-else-i.north west);
	\draw[conn] (for-body-F.east) .. controls (1435,3487) and (1445,3520) .. ([xshift=297pt]if-then-i.north west);
	\draw[conn] ([xshift=208pt]if-else-i.south west) -- ([xshift=229pt]recv-exit.north west);
	\draw[conn] ([xshift=193pt]if-then-i.south west) -- ([xshift=484pt]recv-exit.north west);
	\draw[conn] (recv-exit-F.south) -- ([xshift=-2pt]recv-exit.north east) .. controls (1275,3680) and (1160,3690) .. (1130,3660) .. controls (1100,3630) and (1088,3560) .. ([xshift=283pt]for-body-T.south west);
	\draw[conn] (recv-exit-T.south) -- ([xshift=151pt]for-end-loopexit-loopexit.north west);
	\draw[conn] ([xshift=137pt]for-end-loopexit-loopexit.south west) -- ([xshift=141pt]for-end-loopexit.north west);
	\draw[conn] ([xshift=137pt]for-end-loopexit.south west) -- ([xshift=229pt]for-end.north west);
	\draw[conn] ([xshift=242pt]for-end.south west) -- ([xshift=374pt]if-end21.north west);
	\draw[conn] (if-end21-T.south) -- ([xshift=281pt]if-else-i36.north west);
	\draw[conn] (if-end21-F.south) -- ([xshift=270pt]land-lhs-true-i.north west);
	\draw[conn] (land-lhs-true-i-T.west) .. controls (635,5079) and (625,5110) .. ([xshift=286pt]if-else-i36.north west);
	\draw[conn] (land-lhs-true-i-F.south) .. controls (1070,5300) and (1110,5400) .. (1112,5600) -- (1112,6900) .. controls (1112,7000) and (1040,7040) .. ([xshift=508pt]if-end49-i.north west);
	\draw[conn] (if-else-i36-T.west) .. controls (250,5269) and (230,5330) .. (232,5450) .. controls (238,5800) and (275,6000) .. ([xshift=264pt]if-else28-i.north west);
	\draw[conn] (if-else-i36-F.south) -- ([xshift=303pt]land-lhs-true8-i.north west);
	\draw[conn] (land-lhs-true8-i-T.south) -- ([xshift=297pt]land-lhs-true16-i.north west);
	\draw[conn] (land-lhs-true8-i-F.east) .. controls (1070,5520) and (1075,5550) .. (1075,5650) -- (1075,6850) .. controls (1075,6960) and (1000,7020) .. ([xshift=464pt]if-end49-i.north west);
	\draw[conn] (land-lhs-true16-i-T.west) .. controls (296,5750) and (295,5780) .. (295,5850) -- (297,6200) .. controls (298,6240) and (302,6260) .. ([xshift=281pt]if-else28-i.north west);
	\draw[conn] (land-lhs-true16-i-F.south) .. controls (731,5790) and (725,5800) .. ([xshift=366pt]land-lhs-true21-i.north west);
	\draw[conn] (land-lhs-true21-i-T.south) .. controls (460,5975) and (423,6000) .. (423,6100) .. controls (423,6200) and (440,6225) .. (500,6255) .. controls (700,6350) and (788,6420) .. (788,6560) -- ([xshift=293pt]if-end49-i.north west);
	\draw[conn] (land-lhs-true21-i-F.south) -- ([xshift=293pt]lor-lhs-false-i.north west);
	\draw[conn] (lor-lhs-false-i-T.west) .. controls (420,6213) and (375,6240) .. ([xshift=337pt]if-else28-i.north west);
	\draw[conn] (lor-lhs-false-i-F.south) .. controls (885,6700) and (878,6950) .. ([xshift=348pt]if-end49-i.north west);
	\draw[conn] (if-else28-i-T.south) .. controls (150,6450) and (110,6480) .. (110,6560) .. controls (110,6640) and (140,6670) .. ([xshift=163pt]if-else36-i.north west);
	\draw[conn] (if-else28-i-F.south) -- ([xshift=309pt]land-lhs-true33-i.north west);
	\draw[conn] (land-lhs-true33-i-T.south) -- ([xshift=293pt]if-else36-i.north west);
	\draw[conn] (land-lhs-true33-i-F.east) .. controls (775,6632) and (779,6660) .. (779,6720) -- ([xshift=285pt]if-end49-i.north west);
	\draw[conn] (if-else36-i-T.south) .. controls (140,7000) and (300,7170) .. ([yshift=-151pt]if-end49-i.north west);
	\draw[conn] (if-else36-i-F.south) -- ([xshift=256pt]land-lhs-true41-i.north west);
	\draw[conn] ([xshift=349pt]land-lhs-true41-i.south west) -- ([xshift=85pt]if-end49-i.north west);
\end{tikzpicture}
\end{document}
